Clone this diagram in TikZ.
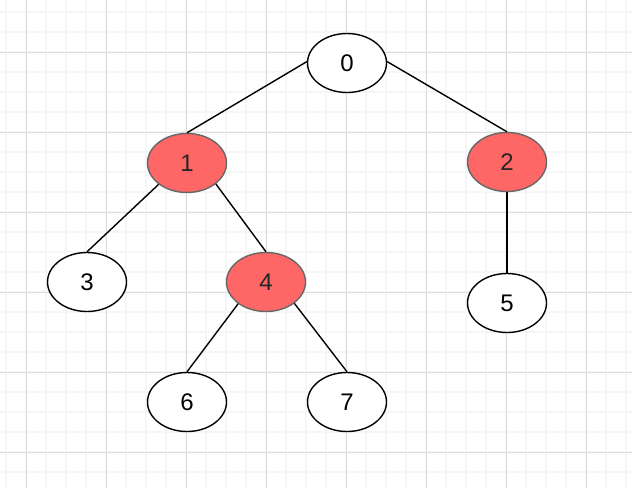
\documentclass[tikz,border=0pt]{standalone}
\usepackage{fontspec}
\setmainfont{Liberation Sans}
\usetikzlibrary{shapes.geometric}
\definecolor{minorgrid}{HTML}{F6F6F6}
\definecolor{majorgrid}{HTML}{DEDEDE}
\definecolor{redfill}{HTML}{FF6666}
\definecolor{redstroke}{HTML}{666666}
\newcommand{\nodefont}{\fontsize{24}{24}\selectfont}
\tikzset{
  treenode/.style={ellipse, draw=black, line width=1.4pt, fill=white,
    minimum width=79pt, minimum height=59pt, inner sep=0pt,
    font=\nodefont},
  marked/.style={treenode, fill=redfill, draw=redstroke, text=black!85},
  edge/.style={draw=black, line width=1.4pt}
}
\begin{document}
\begin{tikzpicture}[x=1pt,y=-1pt]
\useasboundingbox (0,0) rectangle (632,488);
\fill[white] (0,0) rectangle (632,488);
% minor grid
\foreach \x in {6,26,...,626} \draw[minorgrid, line width=1.4pt] (\x,0) -- (\x,488);
\foreach \y in {12,32,...,482} \draw[minorgrid, line width=1.4pt] (0,\y) -- (632,\y);
% major grid
\foreach \x in {26,106,...,586} \draw[majorgrid, line width=1pt] (\x,0) -- (\x,488);
\foreach \y in {52,132,...,452} \draw[majorgrid, line width=1pt] (0,\y) -- (632,\y);
% nodes
\node[treenode] (n0) at (347,63) {0};
\node[marked] (n1) at (187,163) {1};
\node[marked] (n2) at (507,162) {2};
\node[treenode] (n3) at (87,282) {3};
\node[marked] (n4) at (266,282) {4};
\node[treenode] (n5) at (507,303) {5};
\node[treenode] (n6) at (187,402) {6};
\node[treenode] (n7) at (347,402) {7};
% edges
\draw[edge] (n0.178) -- (n1.north);
\draw[edge] (n0.2) -- (n2.north);
\draw[edge] (n1.217) -- (n3.north);
\draw[edge] (n1.324) -- (n4.north);
\draw[edge] (n2.south) -- (n5.north);
\draw[edge] (n4.218) -- (n6.north);
\draw[edge] (n4.323) -- (n7.north);
\end{tikzpicture}
\end{document}
